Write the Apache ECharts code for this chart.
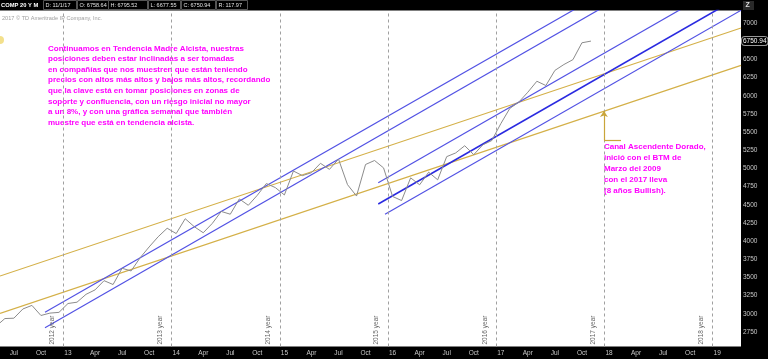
<!DOCTYPE html>
<html><head><meta charset="utf-8">
<script src="https://cdn.jsdelivr.net/npm/echarts@6/dist/echarts.min.js"></script>
<style>html,body{margin:0;padding:0;background:#000}#c{width:768px;height:359px}</style>
</head><body><div id="c"></div>
<script>
// ---- data ----
const months = ['2012-05','2012-06','2012-07','2012-08','2012-09','2012-10','2012-11','2012-12',
'2013-01','2013-02','2013-03','2013-04','2013-05','2013-06','2013-07','2013-08','2013-09','2013-10','2013-11','2013-12',
'2014-01','2014-02','2014-03','2014-04','2014-05','2014-06','2014-07','2014-08','2014-09','2014-10','2014-11','2014-12',
'2015-01','2015-02','2015-03','2015-04','2015-05','2015-06','2015-07','2015-08','2015-09','2015-10','2015-11','2015-12',
'2016-01','2016-02','2016-03','2016-04','2016-05','2016-06','2016-07','2016-08','2016-09','2016-10','2016-11','2016-12',
'2017-01','2017-02','2017-03','2017-04','2017-05','2017-06','2017-07','2017-08','2017-09','2017-10','2017-11'];
const closes = [2827,2935,2940,3067,3116,2977,3010,3020,
3142,3160,3268,3329,3456,3403,3626,3590,3771,3920,4060,4177,
4104,4308,4199,4115,4243,4408,4370,4580,4493,4631,4792,4736,
4635,4964,4901,4941,5070,4987,5128,4777,4620,5054,5109,5007,
4614,4558,4870,4775,4948,4843,5162,5213,5312,5189,5324,5383,
5615,5825,5912,6048,6199,6140,6348,6429,6496,6728,6750.94];
const lastCloseLabel = '6750.94';
const yTickLabels = [2750,3000,3250,3500,3750,4000,4250,4500,4750,5000,5250,5500,5750,6000,6250,6500,7000];
const xTickMonths = [-6,-3,0,3,6,9,12,15,18,21,24,27,30,33,36,39,42,45,48,51,54,57,60,63,66,69,72]; // months from Jan 2013
const monthNames = {3:'Apr',6:'Jul',9:'Oct'};
const yearLineLabels = ['2012 year','2013 year','2014 year','2015 year','2016 year','2017 year','2018 year'];
// trend lines: [monthIndex, value] endpoints
const goldUpper = [[-7.54,3520],[74.64,6931]];
const goldLower = [[-7.54,3007],[74.64,6418]];
const blueA1 = [[-2.55,3021],[62,7600]];
const blueA2 = [[-2.55,2809],[62,7405]];
const blueB1 = [[34.41,4804],[74.64,7663]];
const blueB2 = [[34.41,4511],[74.64,7370]];
const blueB3 = [[35.16,4369],[74.64,7174]];
const arrowBase = [59.44,5391], arrowTip = [59.44,5790], arrowTail = [61.33,5391];
const headerTitle = 'COMP 20 Y M';
const headerFields = ['D: 11/1/17','O: 6758.64','H: 6795.52','L: 6677.55','C: 6750.94','R: 117.97'];
const copyright = '2017 © TD Ameritrade IP Company, Inc.';
const noteLeft = ['Continuamos en Tendencia Madre Alcista, nuestras','posiciones deben estar inclinadas a ser tomadas',
'en compañías que nos muestren que están teniendo','precios con altos más altos y bajos más altos, recordando',
'que la clave está en tomar posiciones en zonas de','soporte y confluencia, con un riesgo inicial no mayor',
'a un 8%, y con una gráfica semanal que también','muestre que está en tendencia alcista.'];
const noteRight = ['Canal Ascendente Dorado,','inició con el BTM de','Marzo del 2009','con el 2017 lleva','(8 años Bullish).'];

// ---- build ----
const mIdx = s => (parseInt(s.slice(0,4))-2013)*12 + parseInt(s.slice(5,7)) - 1;
const priceData = months.map((s,i)=>[mIdx(s), closes[i]]);
const GOLD = '#d4b048', BLUE = '#5252e4', BLUE_D = '#2a2ae0';
const font = "'Liberation Sans', Arial, sans-serif";
function tl(data, color, width){
  return {type:'line', data, symbol:'none', silent:true, clip:true, lineStyle:{color, width}, z:3};
}
const chart = echarts.init(document.getElementById('c'), null, {renderer:'canvas'});
const headerBoxX = [43,77,108,148,181,216], headerBoxW = [33,31,39,32,34,31];
const graphics = [
  {type:'text', left:1, top:2, style:{text:headerTitle, fill:'#fff', font:'bold 5.8px '+font}},
  {type:'text', left:2, top:15.5, style:{text:copyright, fill:'#a0a0a0', font:'5.6px '+font}},
  {type:'circle', shape:{cx:0, cy:40, r:4}, style:{fill:'#f3e08c'}},
  {type:'rect', shape:{x:743, y:1, width:11, height:9}, style:{fill:'#2a2a2a'}},
  {type:'text', left:745.5, top:1.5, style:{text:'Z', fill:'#ddd', font:'bold 7px '+font}},
  {type:'text', left:48, top:43, style:{text:noteLeft.join('\n'), fill:'#ff00ff', font:'bold 8px '+font, lineHeight:10.6}},
  {type:'text', left:604, top:141.5, style:{text:noteRight.join('\n'), fill:'#ff00ff', font:'bold 8px '+font, lineHeight:11}}
];
headerFields.forEach((t,i)=>{
  graphics.push({type:'rect', shape:{x:headerBoxX[i]+0.5, y:0.5, width:headerBoxW[i], height:9}, style:{fill:'#000', stroke:'#555', lineWidth:1}});
  graphics.push({type:'text', left:headerBoxX[i]+2.5, top:2.3, style:{text:t, fill:'#e0e0e0', font:'5.5px '+font}});
});
const yearMarks = yearLineLabels.map((t,k)=>({xAxis:12*k-0.5, label:{formatter:t}}));
chart.setOption({
  backgroundColor:'#000',
  animation:false,
  grid:{left:0, right:27, top:10.5, bottom:12.5, show:true, backgroundColor:'#fff', borderWidth:0},
  xAxis:{type:'value', min:-7.54, max:74.64, splitLine:{show:false}, axisLine:{show:false}, axisTick:{show:false},
    axisLabel:{customValues:xTickMonths, color:'#c8c8c8', fontSize:6.5, fontFamily:font, margin:3,
      formatter:v=>{const mm=((Math.round(v)%12)+12)%12; return mm===0 ? String(13+Math.round(v)/12) : monthNames[mm];}}},
  yAxis:{type:'value', position:'right', min:2550.6, max:7171.9, splitLine:{show:false}, axisLine:{show:false}, axisTick:{show:false},
    axisLabel:{customValues:yTickLabels, color:'#c8c8c8', fontSize:6.5, fontFamily:font, margin:2, formatter:v=>String(v)},
    axisPointer:{show:true, type:'line', value:closes[closes.length-1], status:'show', snap:false, triggerTooltip:false,
      lineStyle:{color:'rgba(0,0,0,0)', width:0},
      label:{show:true, formatter:lastCloseLabel, color:'#fff', backgroundColor:'#000', borderColor:'#999', borderWidth:1, padding:[1,1,0,1], fontSize:6.5, fontFamily:font, margin:1}}},
  graphic:graphics,
  series:[
    {type:'line', data:priceData, symbol:'none', clip:true, lineStyle:{color:'#8c8c8c', width:1}, z:4,
      markLine:{silent:true, symbol:'none', animation:false,
        lineStyle:{color:'#a0a0a0', type:[3,3], width:1},
        label:{position:'insideStartTop', color:'#666', fontSize:6.5, fontFamily:font, distance:[2,8]},
        data: yearMarks}},
    tl(goldUpper, GOLD, 1.2),
    Object.assign(tl(goldLower, GOLD, 1.2), {
      markLine:{silent:true, animation:false, symbolSize:6, lineStyle:{color:'#c9a53a', width:1.2, type:'solid'}, label:{show:false},
        data:[[{coord:arrowBase, symbol:'none'},{coord:arrowTip, symbol:'arrow'}],
              [{coord:arrowBase, symbol:'none'},{coord:arrowTail, symbol:'none'}]]}}),
    tl(blueA1, BLUE, 1.2), tl(blueA2, BLUE, 1.2),
    tl(blueB1, BLUE, 1.2), tl(blueB2, BLUE_D, 1.6), tl(blueB3, BLUE, 1.2)
  ]
});
</script></body></html>
